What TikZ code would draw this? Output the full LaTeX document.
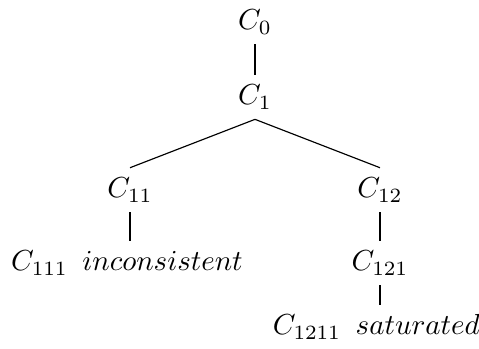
\documentclass[tikz,border=0pt]{standalone}
\usepackage{tikz}

\begin{document}
\begin{tikzpicture}
  \useasboundingbox (0,0) rectangle (5.81,-4.233);
  \node (C0)   at (3.093,-0.267) {$C_0$};
  \node (C1)   at (3.093,-1.177) {$C_1$};
  \node (C11)  at (1.577,-2.305) {$C_{11}$};
  \node (C12)  at (4.609,-2.305) {$C_{12}$};
  \node (C111) at (1.540,-3.190) {$C_{111}\ \,inconsistent$};
  \node (C121) at (4.609,-3.190) {$C_{121}$};
  \node (C1211) at (4.565,-3.967) {$C_{1211}\ \,saturated$};
  \draw (C0) -- (C1);
  \draw (C1.south) -- (C11.north);
  \draw (C1.south) -- (C12.north);
  \draw (C11) -- (C11 |- C111.north);
  \draw (C12) -- (C121);
  \draw (C121) -- (C121 |- C1211.north);
\end{tikzpicture}
\end{document}
